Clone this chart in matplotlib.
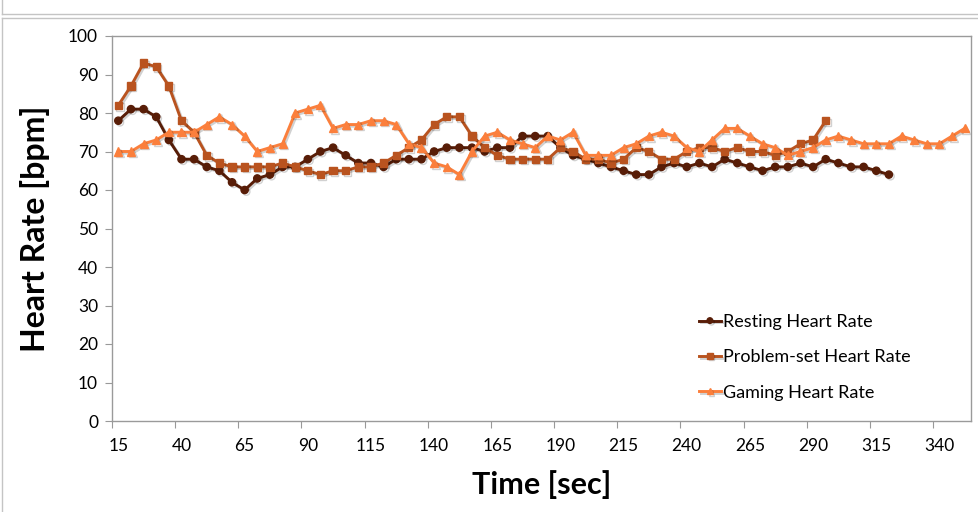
import numpy as np
import matplotlib
matplotlib.use("Agg")
import matplotlib.pyplot as plt
import matplotlib.patheffects as pe
from matplotlib.lines import Line2D

plt.rcParams['font.family'] = ['Lato', 'DejaVu Sans']

# time categories [sec], one every 5 s
time = list(range(15, 355, 5))

resting = [78, 81, 81, 79, 73, 68, 68, 66, 65, 62, 60, 63, 64, 66, 66, 68, 70, 71, 69, 67,
           67, 66, 68, 68, 68, 70, 71, 71, 71, 70, 71, 71, 74, 74, 74, 71, 69, 68, 67, 66,
           65, 64, 64, 66, 67, 66, 67, 66, 68, 67, 66, 65, 66, 66, 67, 66, 68, 67, 66, 66,
           65, 64]
problem = [82, 87, 93, 92, 87, 78, 75, 69, 67, 66, 66, 66, 66, 67, 66, 65, 64,
           65, 65, 66, 66, 67, 69, 71, 73, 77, 79, 79, 74, 71, 69, 68, 68, 68, 68,
           71, 70, 68, 68, 67, 68, 71, 70, 68, 68, 70, 71, 71, 70, 71, 70, 70, 69,
           70, 72, 73, 78]
gaming = [70, 70, 72, 73, 75, 75, 75, 77, 79, 77, 74, 70, 71, 72, 80, 81, 82,
          76, 77, 77, 78, 78, 77, 72, 71, 67, 66, 64, 70, 74, 75, 73, 72, 71, 74,
          73, 75, 69, 69, 69, 71, 72, 74, 75, 74, 71, 70, 73, 76, 76, 74, 72, 71,
          69, 70, 71, 73, 74, 73, 72, 72, 72, 74, 73, 72, 72, 74, 76]

series = [
    ("Resting Heart Rate", resting, "#581d07", "o", 5.2),
    ("Problem-set Heart Rate", problem, "#b9531f", "s", 5.2),
    ("Gaming Heart Rate", gaming, "#fb7f3c", "^", 5.8),
]

fig = plt.figure(figsize=(9.79, 5.12), dpi=100)
ax = fig.add_axes([112 / 979, 1 - 421 / 512, 859 / 979, 385 / 512])

shadow = [pe.SimpleLineShadow(offset=(1.2, -1.2), alpha=0.18), pe.Normal()]
for name, vals, col, mk, ms in series:
    ax.plot(time[:len(vals)], vals, color=col, marker=mk, markersize=ms, lw=2.1,
            label=name, clip_on=False, path_effects=shadow)

ax.set_xlim(time[0] - 2.5, time[-1] + 2.5)
ax.set_ylim(0, 100)
ax.set_yticks(range(0, 101, 10))
ax.tick_params(axis='y', labelsize=12.5, length=5, color='#999999', pad=5)

# tick marks between categories, labels on the categories
ax.set_xticks(np.arange(time[0] - 2.5, time[-1], 25))
ax.set_xticklabels([])
ax.set_xticks(time[::5], minor=True)
ax.set_xticklabels([str(t) for t in time[::5]], minor=True)
ax.tick_params(axis='x', which='major', length=5, color='#999999')
ax.tick_params(axis='x', which='minor', length=0, labelsize=12.5, pad=12)

for s in ax.spines.values():
    s.set_color('#9a9a9a')
    s.set_linewidth(1.0)

ax.set_ylabel("Heart Rate [bpm]", fontsize=23, fontweight='bold', labelpad=13)
ax.set_xlabel("Time [sec]", fontsize=22, fontweight='bold', labelpad=12)

leg = ax.legend(loc='upper left', bbox_to_anchor=(0.675, 0.297), frameon=False,
                fontsize=13, handlelength=1.2, handletextpad=0.15, labelspacing=1.07,
                borderaxespad=0)
for h in leg.legend_handles:
    h.set_markersize(4)

# outer chart frame
gray = '#c4c4c4'
fig.add_artist(Line2D([2 / 979, 1], [1 - 14 / 512] * 2, color=gray, lw=1))
fig.add_artist(Line2D([2 / 979] * 2, [1 - 14 / 512, 1], color=gray, lw=1))
fig.add_artist(Line2D([2 / 979, 1], [1 - 18 / 512] * 2, color=gray, lw=1))
fig.add_artist(Line2D([2 / 979] * 2, [0, 1 - 18 / 512], color=gray, lw=1))

fig.savefig("out.png", dpi=100)
